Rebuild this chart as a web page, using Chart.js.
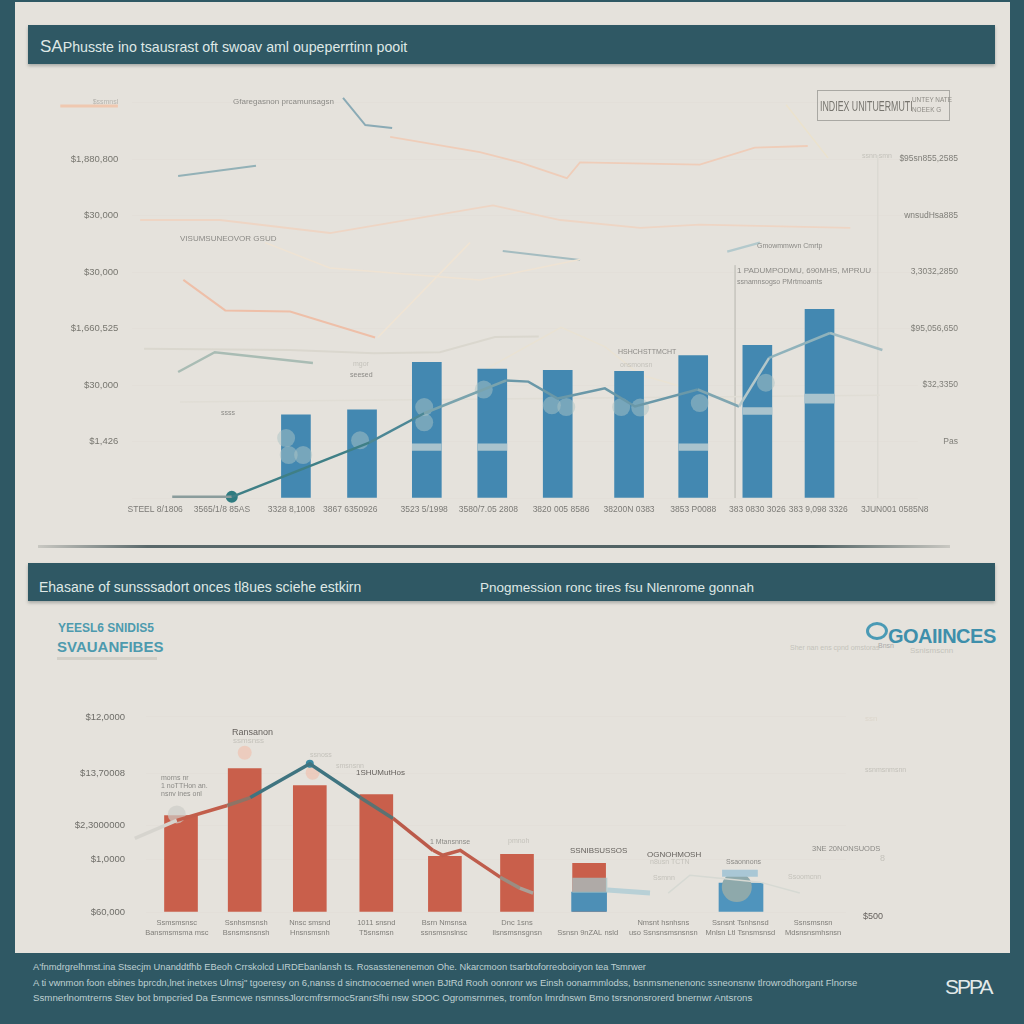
<!DOCTYPE html>
<html>
<head>
<meta charset="utf-8">
<title>SAPhusste</title>
<script src="https://cdn.jsdelivr.net/npm/chart.js@4"></script>
<style>
  html, body { margin: 0; padding: 0; width: 1024px; height: 1024px; overflow: hidden; background: #2f5864; font-family: "Liberation Sans", sans-serif; }
  #panel { position: absolute; left: 15px; top: 2px; width: 995px; height: 951px; background: #e5e2dc; }
  .band { position: absolute; left: 28px; width: 967px; background: #2f5864; color: #dfe8e6; box-shadow: 0 2px 3px rgba(60,70,70,.35); }
  .band span { position: absolute; white-space: nowrap; }
  canvas { position: absolute; left: 0; }
  .n { position: absolute; white-space: nowrap; font-size: 8px; line-height: 12px; color: #8b8a86; }
  .pale { color: #c4c2bb; }
  .dark { color: #66625e; }
  .foot { position: absolute; left: 33px; white-space: nowrap; line-height: 12px; color: #bfd0d2; }
</style>
</head>
<body>
<div id="panel"></div>

<div class="band" style="top:25px;height:39px">
  <span style="left:12px;top:13px;font-size:14.2px;line-height:18px"><b style="font-weight:400;font-size:17px">SA</b>Phusste ino tsausrast oft swoav aml oupeperrtinn pooit</span>
</div>
<div class="band" style="top:563px;height:38px">
  <span style="left:11px;top:16px;font-size:14px;line-height:17px">Ehasane of sunsssadort onces tl8ues sciehe estkirn</span>
  <span style="left:452px;top:16px;font-size:13.5px;line-height:17px">Pnogmession ronc tires fsu Nlenrome gonnah</span>
</div>
<div style="position:absolute;left:38px;top:545px;width:912px;height:3px;background:linear-gradient(90deg,#c9c8c2,#59686a 12%,#4e6062 85%,#c9c8c2)"></div>

<canvas id="growthChart" width="1024" height="450" style="top:90px"></canvas>
<canvas id="shareChart" width="1024" height="258" style="top:692px"></canvas>

<!-- upper chart notes -->
<span class="n" style="left:233px;top:96px">Gfaregasnon prcamunsagsn</span>
<div style="position:absolute;left:817px;top:90px;width:131px;height:29px;border:1px solid #a9a8a3"></div>
<span class="n" style="left:820px;top:99px;font-size:14px;line-height:14px;color:#77756f;transform:scaleX(.63);transform-origin:left">INDIEX UNITUERMUTI</span>
<span class="n" style="left:912px;top:95px;font-size:8px;line-height:10px;color:#8d8b85;transform:scaleX(.8);transform-origin:left">UNTEY NATE<br>NOEEK G</span>
<span class="n pale" style="left:862px;top:150px;font-size:7px">ssnn smn</span>
<span class="n" style="left:180px;top:233px">VISUMSUNEOVOR GSUD</span>
<span class="n" style="left:757px;top:240px;font-size:7px">Gmowmmwvn Cmrtp</span>
<span class="n" style="left:737px;top:265px">1 PADUMPODMU, 690MHS, MPRUU</span>
<span class="n" style="left:737px;top:276px;font-size:7px">ssnamnsogso PMrtmoarnts</span>
<span class="n pale" style="left:353px;top:358px;font-size:7px">mgor</span>
<span class="n" style="left:350px;top:369px;font-size:7px">seesed</span>
<span class="n" style="left:221px;top:407px;font-size:7px">ssss</span>
<span class="n" style="left:618px;top:346px;font-size:7px">HSHCHSTTMCHT</span>
<span class="n pale" style="left:620px;top:359px;font-size:7px">onsmonsn</span>

<!-- lower section headings -->
<span class="n" style="left:58px;top:620px;font-size:12px;line-height:16px;font-weight:700;color:#4d9aae">YEESL6 SNIDIS5</span>
<span class="n" style="left:57px;top:637px;font-size:15px;line-height:19px;font-weight:700;color:#4d9aae">SVAUANFIBES</span>
<div style="position:absolute;left:57px;top:657px;width:100px;height:3px;background:#d2cfc7"></div>
<span class="n" style="left:888px;top:624px;font-size:20px;line-height:24px;font-weight:700;color:#3e8fab;letter-spacing:-.5px">GOAIINCES</span>
<div style="position:absolute;left:866px;top:622px;width:16px;height:12px;border:3px solid #4a9ab5;border-radius:50%"></div>
<span class="n pale" style="left:790px;top:642px;font-size:7px">Sher nan ens cpnd omstoras</span>
<span class="n" style="left:878px;top:640px;font-size:7px;color:#aaa">Bnsn</span>
<span class="n pale" style="left:910px;top:645px;font-size:8px">Ssnismscnn</span>

<!-- lower chart notes -->
<span class="n dark" style="left:232px;top:726px;font-size:9px">Ransanon</span>
<span class="n pale" style="left:233px;top:735px;font-size:8px">ssmsnss</span>
<span class="n" style="left:161px;top:774px;font-size:7px;line-height:8px">morns nr<br>1 noTTHon an.<br>nsnv ines onl</span>
<span class="n pale" style="left:336px;top:760px;font-size:7px">smsnsnn</span>
<span class="n pale" style="left:310px;top:749px;font-size:7px">ssnoss</span>
<span class="n dark" style="left:356px;top:767px;font-size:8px">1SHUMutHos</span>
<span class="n" style="left:430px;top:836px;font-size:7px">1 Mtansnnse</span>
<span class="n pale" style="left:508px;top:835px;font-size:7px">pmnoh</span>
<span class="n dark" style="left:570px;top:845px;font-size:8px">SSNIBSUSSOS</span>
<span class="n dark" style="left:647px;top:849px;font-size:8px">OGNOHMOSH</span>
<span class="n pale" style="left:650px;top:856px;font-size:7px">n8usn TCTN</span>
<span class="n pale" style="left:653px;top:872px;font-size:7px">Ssmnn</span>
<span class="n" style="left:726px;top:856px;font-size:7px">Ssaonnons</span>
<span class="n pale" style="left:788px;top:871px;font-size:7px">Ssoomcnn</span>
<span class="n" style="left:812px;top:843px;font-size:7.5px">3NE 20NONSUODS</span>
<span class="n pale" style="left:880px;top:852px;font-size:9px">8</span>
<span class="n dark" style="left:863px;top:910px;font-size:9px">$500</span>
<span class="n pale" style="left:865px;top:713px;font-size:8px;color:#dcd6cb">ssn</span>
<span class="n pale" style="left:865px;top:764px;font-size:7px">ssnmsnmsnn</span>

<!-- footer -->
<span class="foot" style="top:961px;font-size:9.3px">A'fnmdrgrelhmst.ina Stsecjm Unanddtfhb EBeoh Crrskolcd LIRDEbanlansh ts. Rosasstenenemon Ohe. Nkarcmoon tsarbtoforreoboiryon tea Tsmrwer</span>
<span class="foot" style="top:977px;font-size:9.45px">A ti vwnmon foon ebines bprcdn,lnet inetxes Ulrnsj" tgoeresy on 6,nanss d sinctnocoerned wnen BJtRd Rooh oonronr ws Einsh oonarmmlodss, bsnmsmenenonc ssneonsnw tlrowrodhorgant Flnorse</span>
<span class="foot" style="top:992px;font-size:9.7px">Ssmnerlnomtrerns Stev bot bmpcried Da Esnmcwe nsmnssJlorcmfrsrmoc5ranrSfhi nsw SDOC Ogromsrnrnes, tromfon lmrdnswn Bmo tsrsnonsrorerd bnernwr Antsrons</span>
<span class="foot" style="left:945px;top:975px;font-size:21px;line-height:24px;color:#e2eaea;letter-spacing:-2px">SPPA</span>

<script>
// upper chart - positions on the period axis, values in thousands
const growthTickPos = [0.85, 1.87, 2.93, 3.83, 4.96, 5.94, 7.05, 8.09, 9.07, 10.05, 10.98, 12.15];
const growthTickLabels = ["STEEL 8/1806", "3565/1/8 85AS", "3328 8,1008", "3867 6350926", "3523 5/1998", "3580/7.05 2808", "3820 005 8586", "38200N 0383", "3853 P0088", "383 0830 3026", "383 9,098 3326", "3JUN001 0585N8"];
const growthLeftLabels = ["", "$1,426", "$30,000", "$1,660,525", "$30,000", "$30,000", "$1,880,800", "$ssmnsl"];
const growthRightLabels = ["", "Pas", "$32,3350", "$95,056,650", "3,3032,2850", "wnsudHsa885", "$95sn855,2585", ""];

const barX = [3, 4.01, 5, 6, 7, 8.09, 9.07, 10.05, 11];
const barValues = [73.5, 78, 120, 114, 113, 112, 126, 135, 167];
const stripeX = [5, 6, 9.07, 10.05, 11];
const stripeLow = [42, 42, 42, 74, 84];
const stripeHigh = [48, 48, 48, 80, 92];

const mainX = [1.11, 2.02, 4.12, 4.96, 6.21, 6.55, 7, 7.72, 8.18, 9.14, 9.77, 10.23, 11.16, 11.96];
const mainY = [1, 1, 49, 75, 104, 103, 88, 97, 81, 96, 81, 124, 146, 131];
const blobX = [2.85, 2.89, 3.11, 3.98, 4.96, 4.96, 5.87, 6.91, 7.13, 7.97, 8.26, 9.17, 10.18];
const blobY = [53, 38, 38, 51, 80.5, 67, 96, 82, 80.5, 80.5, 80, 84, 102];

const orangeTopX = [4.44, 5.81, 6.42, 7.14, 7.34, 9.17, 10.01, 10.82];
const orangeTopY = [319.5, 306, 297, 283, 297, 295, 310, 311.5];
const beigeTopX = [10.49, 11.13];
const beigeTopY = [348, 301];
const orangeMidX = [0.62, 1.84, 3.52, 6.01, 7.04, 8.26, 9.17, 11.47];
const orangeMidY = [246, 246, 234.5, 259, 246, 239, 242, 239];
const paleMidX = [2.53, 3.52, 5.81, 7.34];
const paleMidY = [226, 203.5, 193, 211];
const salmonX = [1.28, 1.92, 2.91, 4.21];
const salmonY = [193, 166, 165, 142];
const paleRiseX = [4.25, 5.66];
const paleRiseY = [142, 226];
const greyX = [0.68, 2.91, 4.19, 5.2, 6.04, 6.71];
const greyY = [132, 131, 128, 129, 142.5, 143];
const paleHumpX = [5.87, 7.05, 7.72, 8.26, 9.77];
const paleHumpY = [113, 151, 134, 109, 84];
const tealAX = [1.2, 2.39];
const tealAY = [285, 294];
const tealBX = [3.72, 4.06, 4.47];
const tealBY = [354, 330, 327.5];
const tealCX = [6.16, 7.34];
const tealCY = [218.6, 210.6];
const tealDX = [1.2, 1.76, 3.26];
const tealDY = [111.5, 129, 119.5];
const tealEX = [9.59, 10.09];
const tealEY = [218, 226];
const faintX = [1.23, 11.92];
const faintY = [85, 91];
const cornerX = [-0.6, 0.28];
const cornerY = [347, 347];
const ruleAX = [9.71, 9.71];
const ruleAY = [206, 0];
const ruleBX = [11.89, 11.89];
const ruleBY = [303.5, 0];

// lower chart
const shareTickPos = [0.94, 1.93, 2.84, 3.79, 4.76, 5.8, 6.81, 7.89, 8.99, 10.03];
const shareTickLabels = [
  ["Ssmsmsnsc", "Bansmsmsma msc"], ["Ssnhsmsnsh", "Bsnsmsnsnsh"], ["Nnsc smsnd", "Hnsnsmsnh"], ["1011 snsnd", "T5snsmsn"], ["Bsrn Nmsnsa", "ssnsmsnslnsc"],
  ["Dnc 1sns", "Ilsnsmsnsgnsn"], ["", "Ssnsn 9nZAL nsld"], ["Nmsnt hsnhsns", "uso Ssnsnsmsnsnsn"], ["Ssnsnt Tsnhsnsd", "Mnlsn Ltl Tsnsmsnsd"], ["Ssnsmsnsn", "Mdsnsnsmhsnsn"]
];
const shareTickValues = [0, 53, 87, 139, 196];
const shareTickText = ["$60,000", "$1,0000", "$2,3000000", "$13,70008", "$12,0000"];

const redX = [1, 1.91, 2.84, 3.79, 4.77, 5.8, 6.83];
const redValues = [97, 144, 127, 118, 56, 58, 49];
const blueX = [6.83];
const blueValues = [20];
const wideBlueX = [9];
const wideBlueValues = [29];

const trendX = [0.34, 0.94, 1.66, 1.99, 2.84, 3.56, 4.03, 4.6, 4.74, 4.99, 5.56, 5.84, 6.03];
const trendY = [74, 92, 107, 115, 149, 115, 94, 62, 57, 62, 35, 24, 19];
const washX = [6.59, 7.09];
const washY = [27, 27];
const tailX = [7.09, 7.7];
const tailY = [22, 19];
const loopX = [7.96, 8.27, 9.27, 9.84];
const loopY = [19, 37, 30, 19];
const capX = [8.73, 9.24];
const capY = [39, 39];
const startX = [0.34];
const startY = [74];
const peakX = [2.84];
const peakY = [149];
const moundX = [8.94];
const moundY = [25];
const pinkX = [1.91, 2.88];
const pinkY = [160, 140];
const softX = [0.94];
const softY = [98];
const markerX = [2.02];
const markerY = [1];

const mainColours = ["#8a9c9c", "#3f7f86", "#4c8795", "#7aa3ad", "#6a98a8", "#6a98a8", "#6a98a8", "#6a98a8", "#6a98a8", "#7fa5b0", "#b4c7c9", "#8fb2bb", "#a3bcc1"];
const trendColours = ["#d6d4ce", "#c25e4b", "#8d7466", "#3f7480", "#3f7480", "#5a7272", "#bb5a4a", "#bf5d4c", "#bf5d4c", "#bf5d4c", "#9a8d82", "#aaa098"];

const pts = (xs, ys) => xs.map((x, i) => ({ x: x, y: ys[i] }));

function trace(xs, ys, colour, width, order) {
  return { type: "line", data: pts(xs, ys), borderColor: colour, borderWidth: width || 2, pointRadius: 0, clip: false, order: order === undefined ? 8 : order };
}
function dots(xs, ys, colour, radius, order) {
  return { type: "line", data: pts(xs, ys), showLine: false, pointBackgroundColor: colour, pointBorderWidth: 0, pointRadius: radius, clip: false, order: order };
}
function bars(xs, ys, colour, thick, order) {
  return { type: "bar", data: pts(xs, ys), backgroundColor: colour, barThickness: thick, grouped: false, order: order };
}
// tick label margins would push the plot area away from the reference position
function noMargins(s) {
  s.paddingTop = 0; s.paddingBottom = 0; s.paddingLeft = 0; s.paddingRight = 0;
}

const fontFamily = "'Liberation Sans', sans-serif";

Chart.defaults.animation = false;

new Chart(document.getElementById("growthChart"), {
  type: "bar",
  data: {
    datasets: [
      bars(barX, barValues, "#4388b1", 29, 6),
      bars(stripeX, stripeLow.map((v, i) => [v, stripeHigh[i]]), "#a9c3cd", 29, 5),
      dots(blobX, blobY, "rgba(172,196,198,.5)", 9, 4),
      trace(faintX, faintY, "#e0ddd5", 1.5),
      trace(ruleAX, ruleAY, "#c9c8c2", 1),
      trace(ruleBX, ruleBY, "#dbd9d2", 1),
      trace(orangeTopX, orangeTopY, "#efcdb9", 1.8),
      trace(beigeTopX, beigeTopY, "#ebe2cd", 1.5),
      trace(orangeMidX, orangeMidY, "#eed5c4", 1.8),
      trace(paleMidX, paleMidY, "#efe3d3", 1.5),
      trace(salmonX, salmonY, "#eebfa8", 2),
      trace(paleRiseX, paleRiseY, "#f0e4d3", 1.5),
      trace(greyX, greyY, "#dad7ce", 2),
      trace(paleHumpX, paleHumpY, "#e9e2d3", 1.5),
      trace(tealAX, tealAY, "#93b1b7", 2),
      trace(tealBX, tealBY, "#8aaab5", 2),
      trace(tealCX, tealCY, "#a4bcc0", 2),
      trace(tealDX, tealDY, "#a9bcb4", 2.5),
      trace(tealEX, tealEY, "#b3c9cc", 2.5),
      trace(cornerX, cornerY, "#efc8b0", 3),
      Object.assign(trace(mainX, mainY, "#3f7f86", 2.5, 0), { segment: { borderColor: c => mainColours[c.p0DataIndex] } }),
      dots(markerX, markerY, "#2e7b80", 6, 0)
    ]
  },
  options: {
    responsive: false,
    layout: { padding: { top: 12.5 } },
    plugins: { legend: { display: false }, tooltip: { enabled: false } },
    scales: {
      x: {
        type: "linear", offset: false, min: 0.5, max: 12.5,
        grid: { display: false, drawTicks: false }, border: { display: false },
        afterFit: s => { s.height = 42; noMargins(s); },
        afterBuildTicks: s => { s.ticks = growthTickPos.map(v => ({ value: v })); },
        ticks: { autoSkip: false, maxRotation: 0, padding: 7, color: "#7b7a76", font: { family: fontFamily, size: 8.5 }, callback: (v, i) => growthTickLabels[i] }
      },
      y: {
        min: 0, max: 350,
        grid: { color: "rgba(214,210,202,.15)", drawTicks: false }, border: { display: false },
        afterFit: s => { s.width = 132.3; noMargins(s); },
        ticks: { stepSize: 50, padding: 14, color: c => c.index === 7 ? "#b5b3ad" : "#77766f", font: c => ({ family: fontFamily, size: c.index === 7 ? 7 : 9.5 }), callback: (v, i) => growthLeftLabels[i] }
      },
      yr: {
        position: "right", min: 0, max: 350,
        grid: { display: false, drawTicks: false }, border: { display: false },
        afterFit: s => { s.width = 106.3; noMargins(s); },
        ticks: { stepSize: 50, mirror: true, padding: 40.3, color: "#7f7e78", font: { family: fontFamily, size: 8.5 }, callback: (v, i) => growthRightLabels[i] }
      }
    }
  }
});

new Chart(document.getElementById("shareChart"), {
  type: "bar",
  data: {
    datasets: [
      bars(redX, redValues, "#c95f4b", 33, 6),
      bars(blueX, blueValues, "#4d8fb6", 35, 5),
      bars(wideBlueX, wideBlueValues, "#4f94bd", 44, 5),
      dots(moundX, moundY, "#8ea9ab", 15, 3),
      dots(pinkX, pinkY, "rgba(240,190,170,.6)", 7, 4),
      dots(softX, softY, "rgba(205,205,200,.7)", 9, 4),
      trace(washX, washY, "rgba(165,195,198,.75)", 15, 2),
      trace(tailX, tailY, "#b8d0d6", 5, 2),
      trace(loopX, loopY, "#d6d9d3", 1.5, 2),
      trace(capX, capY, "#a9c7d5", 7, 2),
      Object.assign(trace(trendX, trendY, "#c25e4b", 3.5, 0), { segment: { borderColor: c => trendColours[c.p0DataIndex] } }),
      dots(startX, startY, "#2f77a0", 6, 0),
      dots(peakX, peakY, "#3a8aa2", 4, 0)
    ]
  },
  options: {
    responsive: false,
    layout: { padding: { top: 6, right: 178 } },
    plugins: { legend: { display: false }, tooltip: { enabled: false } },
    scales: {
      x: {
        type: "linear", offset: false, min: 0.5, max: 10.5,
        grid: { display: false, drawTicks: false }, border: { display: false },
        afterFit: s => { s.height = 38; noMargins(s); },
        afterBuildTicks: s => { s.ticks = shareTickPos.map(v => ({ value: v })); },
        ticks: { autoSkip: false, maxRotation: 0, padding: 5, color: "#807f7a", font: { family: fontFamily, size: 7.5, lineHeight: 1.45 }, callback: (v, i) => shareTickLabels[i] }
      },
      y: {
        min: 0, max: 206,
        grid: { color: "rgba(214,210,202,.15)", drawTicks: false }, border: { display: false },
        afterFit: s => { s.width = 146; noMargins(s); },
        afterBuildTicks: s => { s.ticks = shareTickValues.map(v => ({ value: v })); },
        ticks: { padding: 21, color: "#6e6d68", font: { family: fontFamily, size: 9.5 }, callback: (v, i) => shareTickText[i] }
      }
    }
  }
});
</script>
</body>
</html>
